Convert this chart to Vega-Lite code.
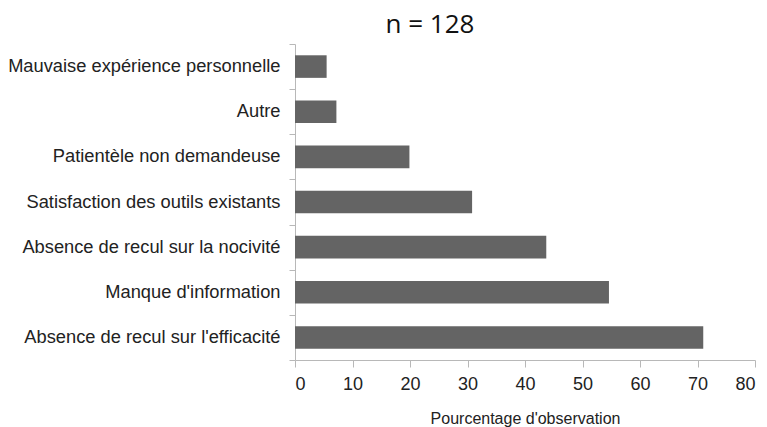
{
  "$schema": "https://vega.github.io/schema/vega-lite/v6.json",
  "autosize": {"type": "none"},
  "padding": {"left": 295, "top": 44, "right": 12, "bottom": 67},
  "width": 460,
  "height": 316,
  "background": "white",
  "title": {
    "text": "n = 128",
    "font": "Open Sans",
    "fontSize": 26,
    "fontWeight": "normal",
    "color": "#111111",
    "anchor": "middle",
    "frame": "group",
    "dx": -95,
    "dy": 32,
    "baseline": "bottom",
    "offset": 2
  },
  "data": {
    "values": [
      {"raison": "Mauvaise expérience personnelle", "pct": 5.5},
      {"raison": "Autre", "pct": 7.2},
      {"raison": "Patientèle non demandeuse", "pct": 19.9},
      {"raison": "Satisfaction des outils existants", "pct": 30.8},
      {"raison": "Absence de recul sur la nocivité", "pct": 43.7},
      {"raison": "Manque d'information", "pct": 54.6},
      {"raison": "Absence de recul sur l'efficacité", "pct": 71.0}
    ]
  },
  "mark": {"type": "bar", "color": "#646464", "height": {"band": 0.5}},
  "encoding": {
    "y": {
      "field": "raison",
      "type": "nominal",
      "sort": null,
      "scale": {"paddingInner": 0, "paddingOuter": 0},
      "axis": {
        "title": null,
        "tickBand": "extent",
        "tickSize": 6,
        "labelPadding": 9,
        "labelFont": "Liberation Sans",
        "labelFontSize": 18.3,
        "labelColor": "#222222",
        "labelLimit": 400,
        "domainColor": "#b8b8b8",
        "tickColor": "#b8b8b8"
      }
    },
    "x": {
      "field": "pct",
      "type": "quantitative",
      "scale": {"domain": [0, 80], "nice": false},
      "axis": {
        "title": "Pourcentage d'observation",
        "values": [0, 10, 20, 30, 40, 50, 60, 70, 80],
        "grid": false,
        "tickSize": 7,
        "labelPadding": 8,
        "labelFont": "Liberation Sans",
        "labelFontSize": 18,
        "labelColor": "#222222",
        "titleFont": "Liberation Sans",
        "titleFontSize": 16,
        "titleFontWeight": "normal",
        "titleColor": "#222222",
        "titlePadding": 17,
        "domainColor": "#b8b8b8",
        "tickColor": "#b8b8b8"
      }
    }
  },
  "config": {"view": {"stroke": null}}
}
